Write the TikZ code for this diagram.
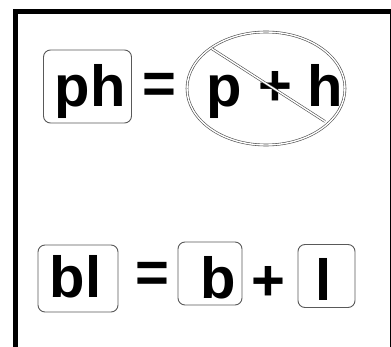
\documentclass[tikz,border=0pt]{standalone}
\usepackage{fontspec}
\setmainfont{Liberation Sans}
\usetikzlibrary{shapes.geometric}
\begin{document}
\begin{tikzpicture}[x=1pt,y=-1pt,
  boxst/.style={draw=black!65,line width=0.9pt,rounded corners=7pt,inner sep=0pt},
  glyph/.style={inner sep=0pt,anchor=base,font=\fontsize{58}{60}\selectfont\bfseries},
  dbl/.style={draw=black!70,line width=0.6pt,double=white,double distance=1.4pt}]
\useasboundingbox (0,0) rectangle (391,347);
\begin{scope}
\clip (0,0) rectangle (391,347);
\draw[line width=5pt] (15.5,400) -- (15.5,11.5) -- (392.5,11.5) -- (392.5,400);
\end{scope}
% top row
\node[boxst,minimum width=88pt,minimum height=73pt] (phbox) at (87.5,86.5) {};
\node[glyph] (ph) at (90,107) {ph};
\node[glyph] (eq1) at (159,104) {=};
\node[ellipse,dbl,minimum width=158pt,minimum height=113pt,inner sep=0pt] (ell) at (266,88.5) {};
\node[glyph] (p) at (224,107) {p};
\node[glyph] (plus1) at (275,106) {+};
\node[glyph] (h) at (325,107) {h};
\coordinate (s1) at (211.5,48.5);
\coordinate (s2) at (325,121.5);
\draw[dbl] (s1) -- (s2);
% bottom row
\node[boxst,minimum width=80pt,minimum height=67pt] (blbox) at (78,278.5) {};
\node[glyph] (bl) at (75.5,298) {bl};
\node[glyph] (eq2) at (152,293) {=};
\node[boxst,minimum width=64pt,minimum height=63pt] (bbox) at (210,273.5) {};
\node[glyph] (b) at (218,299) {b};
\node[glyph] (plus2) at (268,301) {+};
\node[boxst,minimum width=57pt,minimum height=63pt] (lbox) at (326.5,276) {};
\node[glyph] (l) at (324,301) {l};
\end{tikzpicture}
\end{document}
